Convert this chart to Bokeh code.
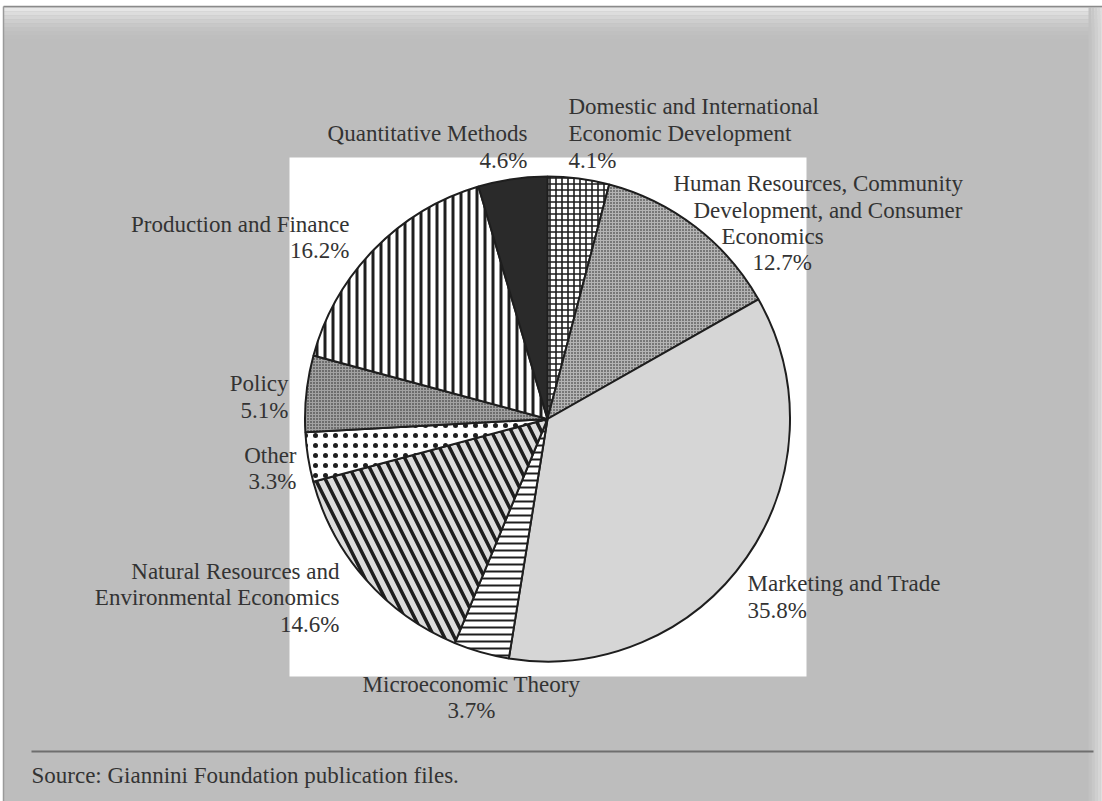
import numpy as np
from bokeh.plotting import figure
from bokeh.models import Range1d
from bokeh.embed import file_html
from bokeh.resources import INLINE
from bokeh.core.properties import value

# ---------------- data ----------------
categories = [
    "Domestic and International Economic Development",
    "Human Resources, Community Development, and Consumer Economics",
    "Marketing and Trade",
    "Microeconomic Theory",
    "Natural Resources and Environmental Economics",
    "Other",
    "Policy",
    "Production and Finance",
    "Quantitative Methods",
]
shares = [4.1, 12.7, 35.8, 3.7, 14.6, 3.3, 5.1, 16.2, 4.6]
name_lines = [
    ["Domestic and International", "Economic Development"],
    ["Human Resources, Community", "Development, and Consumer", "Economics"],
    ["Marketing and Trade"],
    ["Microeconomic Theory"],
    ["Natural Resources and", "Environmental Economics"],
    ["Other"],
    ["Policy"],
    ["Production and Finance"],
    ["Quantitative Methods"],
]
source_note = "Source: Giannini Foundation publication files."

# ---------------- styles ----------------
fills = ["#ffffff", "#b4b4b4", "#d6d6d6", "#ffffff", "#dcdcdc", "#ffffff", "#a2a2a2", "#ffffff", "#2a2a2a"]
hatches = ["+", "dot", " ", "-", "\\", "dot", "dot", "|", " "]
hatch_scales = [6, 3, 8, 7, 20, 10, 3, 8, 8]
hatch_weights = [1.6, 1, 1, 2, 3.5, 0.8, 1, 3, 1]

# label layout (page pixel coords): per line (x, y, align)
label_pos = [
    [(568, 106, "left"), (568, 133, "left"), (568, 160, "left")],
    [(673, 183, "left"), (693, 210, "left"), (721, 236, "left"), (752, 262, "left")],
    [(747, 583, "left"), (747, 610, "left")],
    [(471, 684, "center"), (471, 710, "center")],
    [(339, 571, "right"), (339, 597, "right"), (339, 624, "right")],
    [(296, 455, "right"), (296, 481, "right")],
    [(288, 383, "right"), (288, 410, "right")],
    [(349, 224, "right"), (349, 250, "right")],
    [(527, 133, "right"), (527, 160, "right")],
]

W, H = 1102, 801
def Y(v):
    return H - v

p = figure(width=W, height=H, output_backend="svg", toolbar_location=None,
           x_range=Range1d(0, W), y_range=Range1d(0, H),
           min_border=0, background_fill_color="white", border_fill_color="white")
p.axis.visible = False
p.grid.visible = False
p.outline_line_color = None

# gray page area
p.quad(left=3, right=W, top=Y(6), bottom=0, fill_color="#bdbdbd", line_color=None)
# top light gradient band
for i, c in enumerate(["#e6e6e6", "#dddddd", "#d5d5d5", "#cecece", "#c8c8c8", "#c3c3c3", "#c0c0c0", "#bebebe"]):
    p.quad(left=3, right=W, top=Y(7 + i * 4), bottom=Y(11 + i * 4), fill_color=c, line_color=None)
# right shadow
for i, c in enumerate(["#c2c2c2", "#c8c8c8", "#cfcfcf", "#d6d6d6", "#dedede"]):
    p.quad(left=1088 + i * 3, right=1091 + i * 3 if i < 4 else W, top=Y(7), bottom=0,
           fill_color=c, line_color=None)
# frame lines
p.segment(x0=3, y0=Y(6), x1=W, y1=Y(6), line_color="#8a8a8a", line_width=1.5)
p.segment(x0=3, y0=Y(6), x1=3, y1=0, line_color="#9a9a9a", line_width=1.5)

# white panel behind pie
p.quad(left=289, right=806, top=Y(157), bottom=Y(676), fill_color="white", line_color=None)

# pie wedges
total = sum(shares)
fr = np.array(shares) / total
cum = np.concatenate([[0], np.cumsum(fr)])
start = np.pi / 2 - 2 * np.pi * cum[:-1]
end = np.pi / 2 - 2 * np.pi * cum[1:]
cx, cy, r = 547, Y(418.5), 242.5
for i in range(len(shares)):
    kw = dict(x=cx, y=cy, radius=r, start_angle=start[i], end_angle=end[i], direction="clock",
              fill_color=fills[i], line_color="#1e1e1e", line_width=2)
    if hatches[i].strip():
        kw.update(hatch_pattern=hatches[i], hatch_scale=hatch_scales[i],
                  hatch_weight=hatch_weights[i], hatch_color="#1e1e1e")
    p.wedge(**kw)

# labels
font = value("Liberation Serif")
for i, lines in enumerate(name_lines):
    texts = lines + [f"{shares[i]:.1f}%"]
    for t, (x, y, al) in zip(texts, label_pos[i]):
        p.text(x=[x], y=[Y(y)], text=[t], text_align=al, text_baseline="middle",
               text_font=font, text_font_size="23px", text_color="#333333")

# footer
p.segment(x0=31, y0=Y(751), x1=1093, y1=Y(751), line_color="#6e6e6e", line_width=2)
p.text(x=[31], y=[Y(775)], text=[source_note], text_align="left", text_baseline="middle",
       text_font=font, text_font_size="23px", text_color="#333333")

open("out.html", "w").write(file_html(p, INLINE))
